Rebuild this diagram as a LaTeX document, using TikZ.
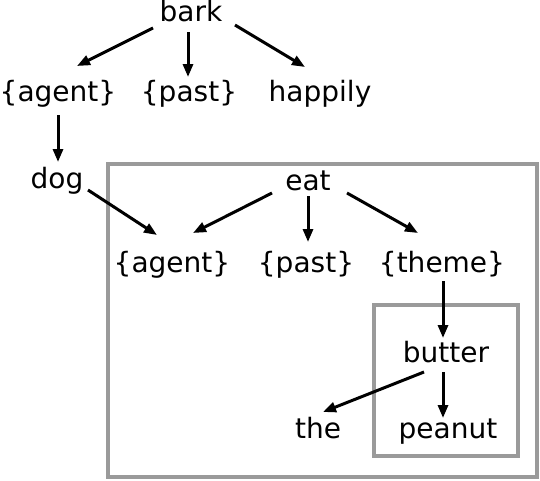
\documentclass[tikz,border=0pt]{standalone}
\usepackage{fontspec}
\setmainfont{DejaVu Sans}
\usetikzlibrary{calc,arrows.meta}
\definecolor{boxgray}{HTML}{9A9A9A}
\tikzset{
  word/.style={anchor=base, inner sep=0pt, font=\fontsize{28}{32}\selectfont},
  arr/.style={line width=3pt, -{Triangle[length=13pt,width=10pt]}},
  frame/.style={draw=boxgray, line width=4pt}
}
\begin{document}
\begin{tikzpicture}[x=1pt,y=-1pt]
\useasboundingbox (0,0) rectangle (540,480);
\draw[frame] (108,164) rectangle (537,477);
\draw[frame] (374,305) rectangle (518,456);
\node[word] (bark) at (191,21) {bark};
\node[word] (agentA) at (58,101) {\{agent\}};
\node[word] (pastA) at (189,101) {\{past\}};
\node[word] (happily) at (320,101) {happily};
\node[word] (dog) at (57,188) {dog};
\node[word] (eat) at (308,190) {eat};
\node[word] (agentB) at (172,272) {\{agent\}};
\node[word] (pastB) at (306,272) {\{past\}};
\node[word] (theme) at (442,272) {\{theme\}};
\node[word] (butter) at (446,362) {butter};
\node[word] (the) at (318,438) {the};
\node[word] (peanut) at (448,438) {peanut};
\draw[arr] ($(bark.base)+(-38,7)$) -- ($(agentA.base)+(19,-35)$);
\draw[arr] ($(bark.base)+(-3,11)$) -- ($(pastA.base)+(-1,-24)$);
\draw[arr] ($(bark.base)+(44,4)$) -- ($(happily.base)+(-15,-34)$);
\draw[arr] ($(agentA.base)+(0,14)$) -- ($(dog.base)+(1,-26)$);
\draw[arr] ($(dog.base)+(31,2)$) -- ($(agentB.base)+(-15,-37)$);
\draw[arr] ($(eat.base)+(-36,3)$) -- ($(agentB.base)+(21,-39)$);
\draw[arr] ($(eat.base)+(0,6)$) -- ($(pastB.base)+(2,-30)$);
\draw[arr] ($(eat.base)+(39,3)$) -- ($(theme.base)+(-24,-39)$);
\draw[arr] ($(theme.base)+(1,9)$) -- ($(butter.base)+(-3,-24)$);
\draw[arr] ($(butter.base)+(-22,10)$) -- ($(the.base)+(5,-26)$);
\draw[arr] ($(butter.base)+(-3,10)$) -- ($(peanut.base)+(-5,-20)$);
\end{tikzpicture}
\end{document}
